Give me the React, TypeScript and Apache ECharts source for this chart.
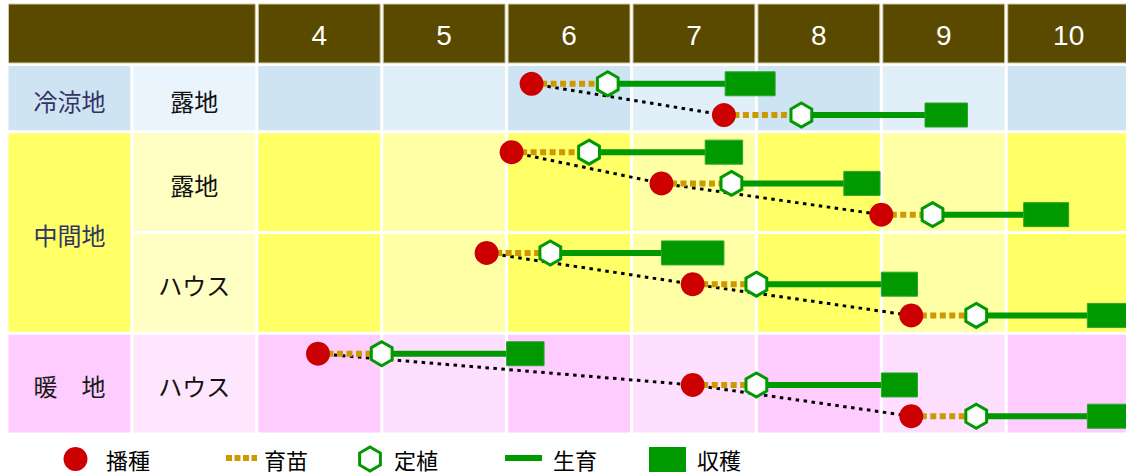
import React, { useEffect, useRef } from 'react';
import * as echarts from 'echarts';

// ---------- data ----------
const months = [4, 5, 6, 7, 8, 9, 10];
const regionNames = ['冷涼地', '中間地', '暖　地'];
const rowTypes = ['露地', '露地', 'ハウス', 'ハウス'];
const rowRegion = [0, 1, 1, 2];
const rowLaneCounts = [2, 3, 3, 3];

// one entry per cropping schedule (lane); values in months (fractional)
const laneRow = [0, 0, 1, 1, 1, 2, 2, 2, 3, 3, 3];
const sowing = [6.2, 7.74, 6.04, 7.24, 9.0, 5.84, 7.49, 9.24, 4.49, 7.49, 9.24];
const planting = [6.81, 8.36, 6.66, 7.8, 9.41, 6.35, 8.0, 9.76, 5.0, 8.0, 9.76];
const harvestStart = [7.75, 9.35, 7.59, 8.7, 10.14, 7.24, 9.0, 10.65, 6.0, 9.0, 10.65];
const harvestEnd = [8.15, 9.69, 7.89, 8.99, 10.5, 7.74, 9.29, 11.0, 6.3, 9.29, 11.0];

const legendLabels = ['播種', '育苗', '定植', '生育', '収穫'];

// ---------- styles ----------
const HEADER = '#5a4a00';
const RED = '#cc0000';
const GREEN = '#009900';
const ORANGE = '#cc9900';
const CJK = '"Noto Sans CJK JP", "Noto Sans", sans-serif';
const LABEL_FONT = `24px ${CJK}`;
const MONTH_FONT = '28px "Liberation Sans", Arial, sans-serif';
const LEGEND_FONT = `22px ${CJK}`;
const palettes = [
  { region: '#cfe4f2', type: '#eaf4fc', dark: '#cfe4f2', light: '#e1eff8', label: '#333366' },
  { region: '#ffff66', type: '#ffffc4', dark: '#ffff66', light: '#ffffa6', label: '#333366' },
  { region: '#ffccff', type: '#ffe6ff', dark: '#ffccff', light: '#ffdfff', label: '#1a1a1a' },
];
const G = 1.5; // half of the white gap between cells
const HEADER_TOP = -1.8;
const COL_W = 124.9;
const GRID_LEFT = 7;
const CHART_W = 1126;
const X_MIN = 2;
const X_MAX = X_MIN + (CHART_W - GRID_LEFT) / COL_W;

// ---------- layout helpers ----------
const rowStart: number[] = [];
{
  let acc = 0;
  rowLaneCounts.forEach((n) => {
    rowStart.push(acc);
    acc += n;
  });
}
const totalLanes = rowLaneCounts.reduce((a, b) => a + b, 0);

function laneY(i: number) {
  const r = laneRow[i];
  let k = 0;
  for (let j = 0; j < i; j++) if (laneRow[j] === r) k++;
  const n = rowLaneCounts[r];
  return rowStart[r] + n / 2 + (k - (n - 1) / 2) * 0.93 + 0.04;
}

type Cell = {
  x0: number; x1: number; y0: number; y1: number; color: string;
  header?: boolean; text?: string; textColor?: string; font?: string;
};

function buildCells(): Cell[] {
  const cells: Cell[] = [];
  cells.push({ x0: 2, x1: 4, y0: HEADER_TOP, y1: 0, color: HEADER, header: true });
  months.forEach((m) =>
    cells.push({ x0: m, x1: m + 1, y0: HEADER_TOP, y1: 0, color: HEADER, header: true, text: String(m), textColor: '#ffffff', font: MONTH_FONT })
  );
  regionNames.forEach((name, g) => {
    const rows = rowRegion.map((rg, r) => (rg === g ? r : -1)).filter((r) => r >= 0);
    const first = rows[0];
    const last = rows[rows.length - 1];
    const pal = palettes[g];
    cells.push({ x0: 2, x1: 3, y0: rowStart[first], y1: rowStart[last] + rowLaneCounts[last], color: pal.region, text: name, textColor: pal.label, font: LABEL_FONT });
  });
  rowTypes.forEach((t, r) => {
    const pal = palettes[rowRegion[r]];
    const y0 = rowStart[r];
    const y1 = y0 + rowLaneCounts[r];
    cells.push({ x0: 3, x1: 4, y0, y1, color: pal.type, text: t, textColor: '#111111', font: LABEL_FONT });
    months.forEach((m, mi) => {
      cells.push({ x0: m, x1: m + 1, y0, y1, color: mi % 2 === 0 ? pal.dark : pal.light });
    });
  });
  return cells;
}

const cells = buildCells();

function hexPoints(cx: number, cy: number, R: number) {
  const pts: number[][] = [];
  for (let i = 0; i < 6; i++) {
    const a = ((-90 + 60 * i) * Math.PI) / 180;
    pts.push([cx + R * Math.cos(a), cy + R * Math.sin(a)]);
  }
  return pts;
}

const laneIdx = laneRow.map((_, i) => [i]);

function buildOption(): any {
  return {
    animation: false,
    grid: { left: GRID_LEFT, right: 0, top: 4, height: 430 },
    xAxis: { type: 'value', min: X_MIN, max: X_MAX, show: false },
    yAxis: { type: 'value', min: HEADER_TOP, max: totalLanes, inverse: true, show: false },
    series: [
      {
        name: 'table',
        type: 'custom',
        silent: true,
        clip: false,
        data: cells.map((_, i) => [i]),
        renderItem: (params: any, api: any) => {
          const c = cells[params.dataIndex];
          const p0 = api.coord([c.x0, c.y0]);
          const p1 = api.coord([c.x1, c.y1]);
          const top = c.header ? p0[1] : p0[1] + G;
          const x = p0[0] + G;
          const w = p1[0] - p0[0] - 2 * G;
          const h = p1[1] - G - top;
          const children: any[] = [
            {
              type: 'rect',
              shape: { x, y: top, width: w, height: h },
              style: c.header ? { fill: c.color, stroke: '#d2cba9', lineWidth: 1 } : { fill: c.color },
            },
          ];
          if (c.text) {
            children.push({
              type: 'text',
              style: {
                text: c.text,
                x: x + w / 2,
                y: top + h / 2 + 2,
                align: 'center',
                verticalAlign: 'middle',
                font: c.font,
                fill: c.textColor,
              },
            });
          }
          return { type: 'group', children };
        },
      },
      {
        name: 'link',
        type: 'custom',
        silent: true,
        clip: false,
        data: rowTypes.map((_, r) => [r]),
        renderItem: (params: any, api: any) => {
          const r = params.dataIndex;
          const pts = laneRow
            .map((lr, i) => (lr === r ? api.coord([sowing[i], laneY(i)]) : null))
            .filter((p) => p);
          return {
            type: 'polyline',
            shape: { points: pts },
            style: { stroke: '#000000', lineWidth: 3, lineDash: [3.5, 4.5], fill: null },
          };
        },
      },
      {
        name: legendLabels[1],
        type: 'custom',
        silent: true,
        clip: false,
        data: laneIdx,
        renderItem: (params: any, api: any) => {
          const i = params.dataIndex;
          const a = api.coord([sowing[i], laneY(i)]);
          const b = api.coord([planting[i], laneY(i)]);
          return {
            type: 'line',
            shape: { x1: a[0], y1: a[1], x2: b[0], y2: b[1] },
            style: { stroke: ORANGE, lineWidth: 6, lineDash: [6, 3.5] },
          };
        },
      },
      {
        name: legendLabels[3],
        type: 'custom',
        silent: true,
        clip: false,
        data: laneIdx,
        renderItem: (params: any, api: any) => {
          const i = params.dataIndex;
          const a = api.coord([planting[i], laneY(i)]);
          const b = api.coord([harvestStart[i], laneY(i)]);
          return {
            type: 'line',
            shape: { x1: a[0], y1: a[1], x2: b[0], y2: b[1] },
            style: { stroke: GREEN, lineWidth: 6 },
          };
        },
      },
      {
        name: legendLabels[4],
        type: 'custom',
        silent: true,
        clip: false,
        data: laneIdx,
        renderItem: (params: any, api: any) => {
          const i = params.dataIndex;
          const a = api.coord([harvestStart[i], laneY(i)]);
          const b = api.coord([harvestEnd[i], laneY(i)]);
          return {
            type: 'rect',
            shape: { x: a[0], y: a[1] - 12, width: b[0] - a[0], height: 24 },
            style: { fill: GREEN, stroke: '#2ca62c', lineWidth: 1 },
          };
        },
      },
      {
        name: legendLabels[0],
        type: 'custom',
        silent: true,
        clip: false,
        data: laneIdx,
        renderItem: (params: any, api: any) => {
          const i = params.dataIndex;
          const a = api.coord([sowing[i], laneY(i)]);
          return { type: 'circle', shape: { cx: a[0], cy: a[1], r: 12 }, style: { fill: RED } };
        },
      },
      {
        name: legendLabels[2],
        type: 'custom',
        silent: true,
        clip: false,
        data: laneIdx,
        renderItem: (params: any, api: any) => {
          const i = params.dataIndex;
          const a = api.coord([planting[i], laneY(i)]);
          return {
            type: 'polygon',
            shape: { points: hexPoints(a[0], a[1], 12) },
            style: { fill: '#ffffff', stroke: GREEN, lineWidth: 3 },
          };
        },
      },
    ],
    graphic: [
      { type: 'circle', shape: { cx: 75.5, cy: 459, r: 12 }, style: { fill: RED } },
      { type: 'text', style: { text: legendLabels[0], x: 106, y: 459, verticalAlign: 'middle', font: LEGEND_FONT, fill: '#000' } },
      { type: 'line', shape: { x1: 226, y1: 458, x2: 257, y2: 458 }, style: { stroke: ORANGE, lineWidth: 6, lineDash: [6, 2.5] } },
      { type: 'text', style: { text: legendLabels[1], x: 264, y: 459, verticalAlign: 'middle', font: LEGEND_FONT, fill: '#000' } },
      { type: 'polygon', shape: { points: hexPoints(370, 459, 12) }, style: { fill: '#fff', stroke: GREEN, lineWidth: 3 } },
      { type: 'text', style: { text: legendLabels[2], x: 394, y: 459, verticalAlign: 'middle', font: LEGEND_FONT, fill: '#000' } },
      { type: 'line', shape: { x1: 505, y1: 458, x2: 542, y2: 458 }, style: { stroke: GREEN, lineWidth: 6 } },
      { type: 'text', style: { text: legendLabels[3], x: 553, y: 459, verticalAlign: 'middle', font: LEGEND_FONT, fill: '#000' } },
      { type: 'rect', shape: { x: 649, y: 447, width: 37, height: 25 }, style: { fill: GREEN } },
      { type: 'text', style: { text: legendLabels[4], x: 697, y: 459, verticalAlign: 'middle', font: LEGEND_FONT, fill: '#000' } },
    ],
  };
}

export default function App() {
  const ref = useRef<HTMLDivElement>(null);
  useEffect(() => {
    const chart = echarts.init(ref.current!, null, { renderer: 'svg' });
    chart.setOption(buildOption());
    return () => chart.dispose();
  }, []);
  return (
    <div
      ref={ref}
      style={{ position: 'absolute', left: 0, top: 0, width: CHART_W, height: 474, background: '#ffffff' }}
    />
  );
}
